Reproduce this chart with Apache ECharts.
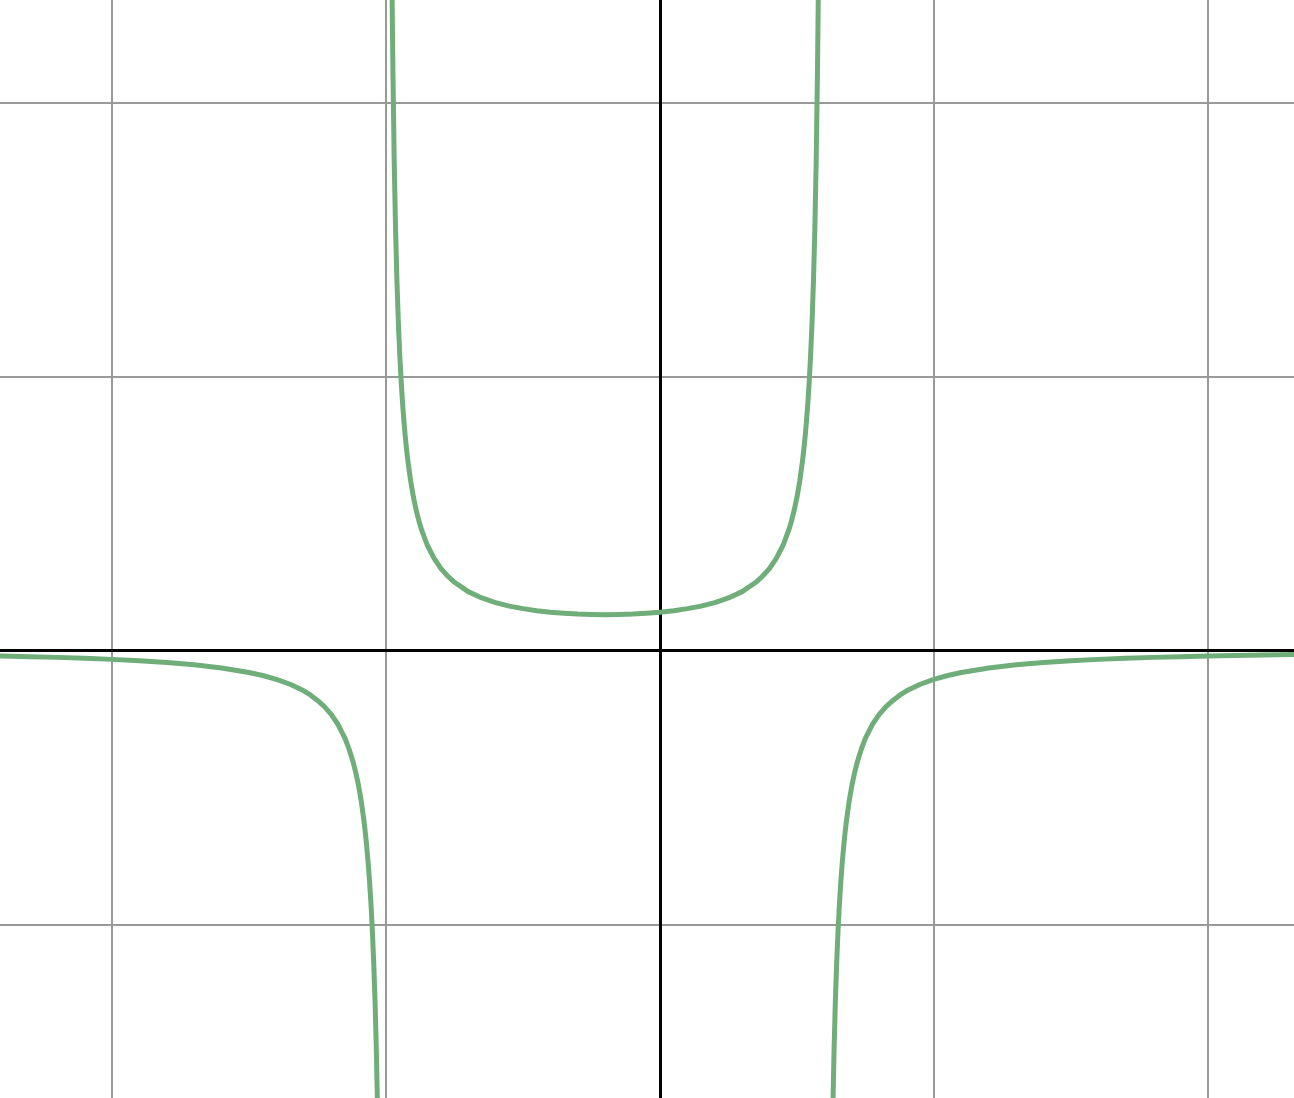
<!DOCTYPE html>
<html>
<head>
<meta charset="utf-8">
<script src="https://cdn.jsdelivr.net/npm/echarts@6/dist/echarts.min.js"></script>
<style>
html,body{margin:0;padding:0;background:#fff;}
#chart{width:1294px;height:1098px;}
</style>
</head>
<body>
<div id="chart"></div>
<script>
// Values
var leftX = [-2.45, -2.4, -2.3, -2.2, -2.1, -2.0, -1.9, -1.8, -1.7, -1.6, -1.5, -1.45, -1.4, -1.35, -1.3, -1.275, -1.25, -1.225, -1.2, -1.175, -1.15, -1.135, -1.12, -1.11, -1.1, -1.09, -1.08, -1.075, -1.07, -1.065, -1.06, -1.055, -1.05, -1.045, -1.04, -1.035, -1.03, -1.025];
var leftY = [-0.019, -0.020, -0.0223, -0.025, -0.0283, -0.0323, -0.0373, -0.0438, -0.0522, -0.0636, -0.080, -0.0911, -0.105, -0.123, -0.147, -0.163, -0.182, -0.2046, -0.233, -0.270, -0.320, -0.359, -0.407, -0.447, -0.494, -0.552, -0.625, -0.669, -0.719, -0.776, -0.843, -0.923, -1.018, -1.135, -1.280, -1.468, -1.718, -2.068];

var midX = [-0.978, -0.975, -0.97, -0.965, -0.96, -0.955, -0.95, -0.945, -0.94, -0.935, -0.93, -0.925, -0.92, -0.91, -0.9, -0.89, -0.88, -0.87, -0.85, -0.825, -0.8, -0.775, -0.75, -0.7, -0.65, -0.6, -0.55, -0.5, -0.45, -0.4, -0.35, -0.3, -0.25, -0.2, -0.15, -0.1, -0.05, 0.0, 0.05, 0.1, 0.15, 0.2, 0.25, 0.3, 0.35, 0.375, 0.4, 0.425, 0.45, 0.47, 0.48, 0.49, 0.5, 0.51, 0.52, 0.525, 0.53, 0.535, 0.54, 0.545, 0.55, 0.555, 0.56, 0.565, 0.57, 0.575, 0.578];
var midY = [2.419, 2.133, 1.783, 1.533, 1.346, 1.200, 1.084, 0.988, 0.909, 0.842, 0.784, 0.734, 0.691, 0.618, 0.560, 0.513, 0.473, 0.440, 0.386, 0.337, 0.300, 0.272, 0.249, 0.215, 0.192, 0.175, 0.162, 0.153, 0.1455, 0.140, 0.136, 0.133, 0.1318, 0.131, 0.1318, 0.133, 0.136, 0.140, 0.1455, 0.153, 0.162, 0.175, 0.192, 0.215, 0.249, 0.272, 0.300, 0.337, 0.386, 0.440, 0.473, 0.513, 0.560, 0.618, 0.691, 0.734, 0.784, 0.842, 0.909, 0.988, 1.084, 1.200, 1.346, 1.533, 1.783, 2.133, 2.419];

var rightX = [0.625, 0.63, 0.635, 0.64, 0.645, 0.65, 0.655, 0.66, 0.665, 0.67, 0.675, 0.68, 0.69, 0.7, 0.71, 0.72, 0.735, 0.75, 0.775, 0.8, 0.825, 0.85, 0.875, 0.9, 0.95, 1.0, 1.05, 1.1, 1.2, 1.3, 1.4, 1.5, 1.6, 1.7, 1.8, 1.9, 2.0, 2.1, 2.2, 2.35];
var rightY = [-2.068, -1.718, -1.468, -1.280, -1.135, -1.018, -0.923, -0.843, -0.776, -0.719, -0.669, -0.625, -0.552, -0.494, -0.447, -0.407, -0.359, -0.320, -0.270, -0.233, -0.2046, -0.182, -0.163, -0.147, -0.123, -0.105, -0.0911, -0.080, -0.0636, -0.0522, -0.0438, -0.0373, -0.0323, -0.0283, -0.025, -0.0223, -0.020, -0.0181, -0.0164, -0.0143];

var gridX = [-2, -1, 1, 2];
var gridY = [-1, 1, 2];
var axisX = [0];
var axisY = [0];

function pairs(xs, ys) {
  return xs.map(function (x, i) { return [x, ys[i]]; });
}

var curveColor = '#6fae79';
var gridColor = '#999999';

function curve(xs, ys) {
  return {
    type: 'line', data: pairs(xs, ys), z: 5, showSymbol: false, smooth: false,
    sampling: null, clip: true, silent: true,
    lineStyle: {color: curveColor, width: 5, cap: 'round', join: 'round'}
  };
}

var chart = echarts.init(document.getElementById('chart'), null, {renderer: 'canvas'});
chart.setOption({
  animation: false,
  backgroundColor: '#ffffff',
  grid: {left: 0, right: 0, top: 0, bottom: 0, containLabel: false},
  xAxis: {
    type: 'value', min: -2.4088, max: 2.3139,
    axisLine: {show: false}, axisTick: {show: false}, axisLabel: {show: false}, splitLine: {show: false}
  },
  yAxis: {
    type: 'value', min: -1.633, max: 2.374,
    axisLine: {show: false}, axisTick: {show: false}, axisLabel: {show: false}, splitLine: {show: false}
  },
  series: [
    {
      type: 'line', data: [], z: 1, silent: true,
      markLine: {
        silent: true, symbol: ['none', 'none'], animation: false,
        label: {show: false},
        lineStyle: {color: gridColor, width: 2, type: 'solid'},
        data: gridX.map(function (v) { return {xAxis: v}; }).concat(gridY.map(function (v) { return {yAxis: v}; }))
      }
    },
    {
      type: 'line', data: [], z: 2, silent: true,
      markLine: {
        silent: true, symbol: ['none', 'none'], animation: false,
        label: {show: false},
        lineStyle: {color: '#000000', width: 3, type: 'solid'},
        data: axisX.map(function (v) { return {xAxis: v}; }).concat(axisY.map(function (v) { return {yAxis: v}; }))
      }
    },
    curve(leftX, leftY),
    curve(midX, midY),
    curve(rightX, rightY)
  ]
});
</script>
</body>
</html>
